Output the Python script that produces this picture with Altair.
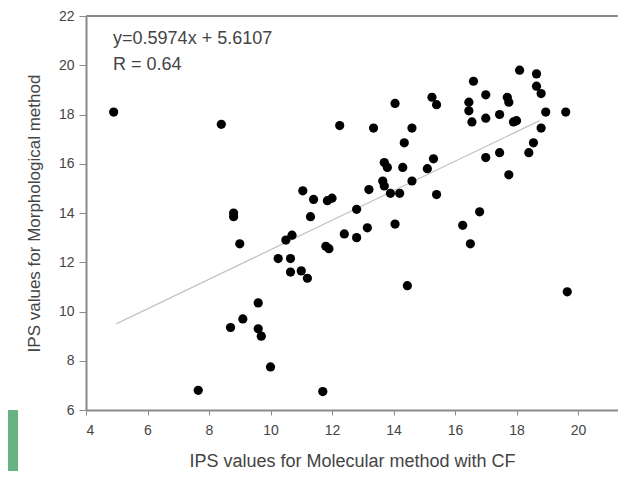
import altair as alt
import pandas as pd

# IPS values
mol_cf = [4.9, 8.4, 8.8, 8.8, 9.0, 9.6, 9.1, 8.7, 9.6, 9.7, 10.0, 7.65, 11.7,
          10.25, 10.65, 10.5, 10.7, 10.65, 11.0, 11.2, 11.3, 11.8, 11.9, 12.4,
          12.8, 13.15, 12.8, 12.25, 13.35, 14.6, 14.05, 14.35, 13.7, 13.8, 14.3,
          14.6, 13.65, 13.7, 13.9, 14.2, 13.2, 11.05, 11.4, 11.85, 12.0, 14.05,
          18.1, 18.65, 18.65, 18.8, 16.6, 17.0, 17.7, 17.75, 15.25, 15.4, 16.45,
          16.45, 16.55, 17.0, 17.45, 17.9, 18.0, 18.95, 19.6, 18.8, 18.55, 18.4,
          15.3, 15.1, 17.0, 17.45, 17.75, 15.4, 16.8, 16.25, 16.5, 14.45, 19.65]
morph = [18.1, 17.6, 14.0, 13.85, 12.75, 10.35, 9.7, 9.35, 9.3, 9.0, 7.75, 6.8, 6.75,
         12.15, 12.15, 12.9, 13.1, 11.6, 11.65, 11.35, 13.85, 12.65, 12.55, 13.15,
         13.0, 13.4, 14.15, 17.55, 17.45, 17.45, 18.45, 16.85, 16.05, 15.85, 15.85,
         15.3, 15.3, 15.1, 14.8, 14.8, 14.95, 14.9, 14.55, 14.5, 14.6, 13.55,
         19.8, 19.65, 19.15, 18.85, 19.35, 18.8, 18.7, 18.5, 18.7, 18.4, 18.5,
         18.15, 17.7, 17.85, 18.0, 17.7, 17.75, 18.1, 18.1, 17.45, 16.85, 16.45,
         16.2, 15.8, 16.25, 16.45, 15.55, 14.75, 14.05, 13.5, 12.75, 11.05, 10.8]

# trend line end points as drawn
trend_x = [4.98, 18.75]
trend_y = [9.5, 17.75]

x_ticks = [4, 6, 8, 10, 12, 14, 16, 18, 20]
y_ticks = [6, 8, 10, 12, 14, 16, 18, 20, 22]

ann_text = ["y=0.5974x + 5.6107", "R = 0.64"]
ann_x = [4.88, 4.88]
ann_y = [21.05, 20.0]

pts = pd.DataFrame({"x": mol_cf, "y": morph})
trend = pd.DataFrame({"x": trend_x, "y": trend_y})
ann = pd.DataFrame({"t": ann_text, "x": ann_x, "y": ann_y})

FONT = "Liberation Sans"
xscale = alt.Scale(domain=[4, 21.3], nice=False, zero=False)
yscale = alt.Scale(domain=[6, 22], nice=False, zero=False)

xaxis = alt.Axis(values=x_ticks, title="IPS values for Molecular method with CF",
                 grid=False, domainColor="#8a8a8a", domainWidth=2, tickColor="#8a8a8a",
                 tickSize=5, labelPadding=8, labelFontSize=14, labelFont=FONT,
                 labelColor="#444444", titleFont=FONT, titleFontSize=18,
                 titleFontWeight="normal", titleColor="#444444", titlePadding=15)
yaxis = alt.Axis(values=y_ticks, title="IPS values for Morphological method",
                 grid=False, domainColor="#8a8a8a", domainWidth=2, tickColor="#8a8a8a",
                 tickSize=7, labelPadding=5, labelFontSize=14, labelFont=FONT,
                 labelColor="#444444", titleFont=FONT, titleFontSize=17,
                 titleFontWeight="normal", titleColor="#444444", titlePadding=15)

points = alt.Chart(pts).mark_circle(size=85, color="black", opacity=1).encode(
    x=alt.X("x:Q", scale=xscale, axis=xaxis),
    y=alt.Y("y:Q", scale=yscale, axis=yaxis),
)

line = alt.Chart(trend).mark_line(color="#c4c4c4", strokeWidth=1.3).encode(
    x=alt.X("x:Q", scale=xscale), y=alt.Y("y:Q", scale=yscale)
)

top = alt.Chart(pd.DataFrame({"v": [22]})).mark_rule(color="#8a8a8a", strokeWidth=2).encode(
    y=alt.Y("v:Q", scale=yscale)
)

text = alt.Chart(ann).mark_text(align="left", baseline="middle", font=FONT,
                                fontSize=18, color="#444444").encode(
    x=alt.X("x:Q", scale=xscale), y=alt.Y("y:Q", scale=yscale), text="t:N"
)

green = alt.Chart(pd.DataFrame({"v": [0]})).mark_rect(color="#67b384").encode(
    x=alt.value(-78), x2=alt.value(-68), y=alt.value(394), y2=alt.value(455)
)

chart = alt.layer(green, line, points, top, text).properties(
    width=532, height=394,
    autosize=alt.AutoSizeParams(type="none"),
    padding={"left": 78, "top": 8, "right": 0, "bottom": 61},
).configure_view(stroke=None)

chart.save("out.html", embed_options={"renderer": "svg", "actions": False})
